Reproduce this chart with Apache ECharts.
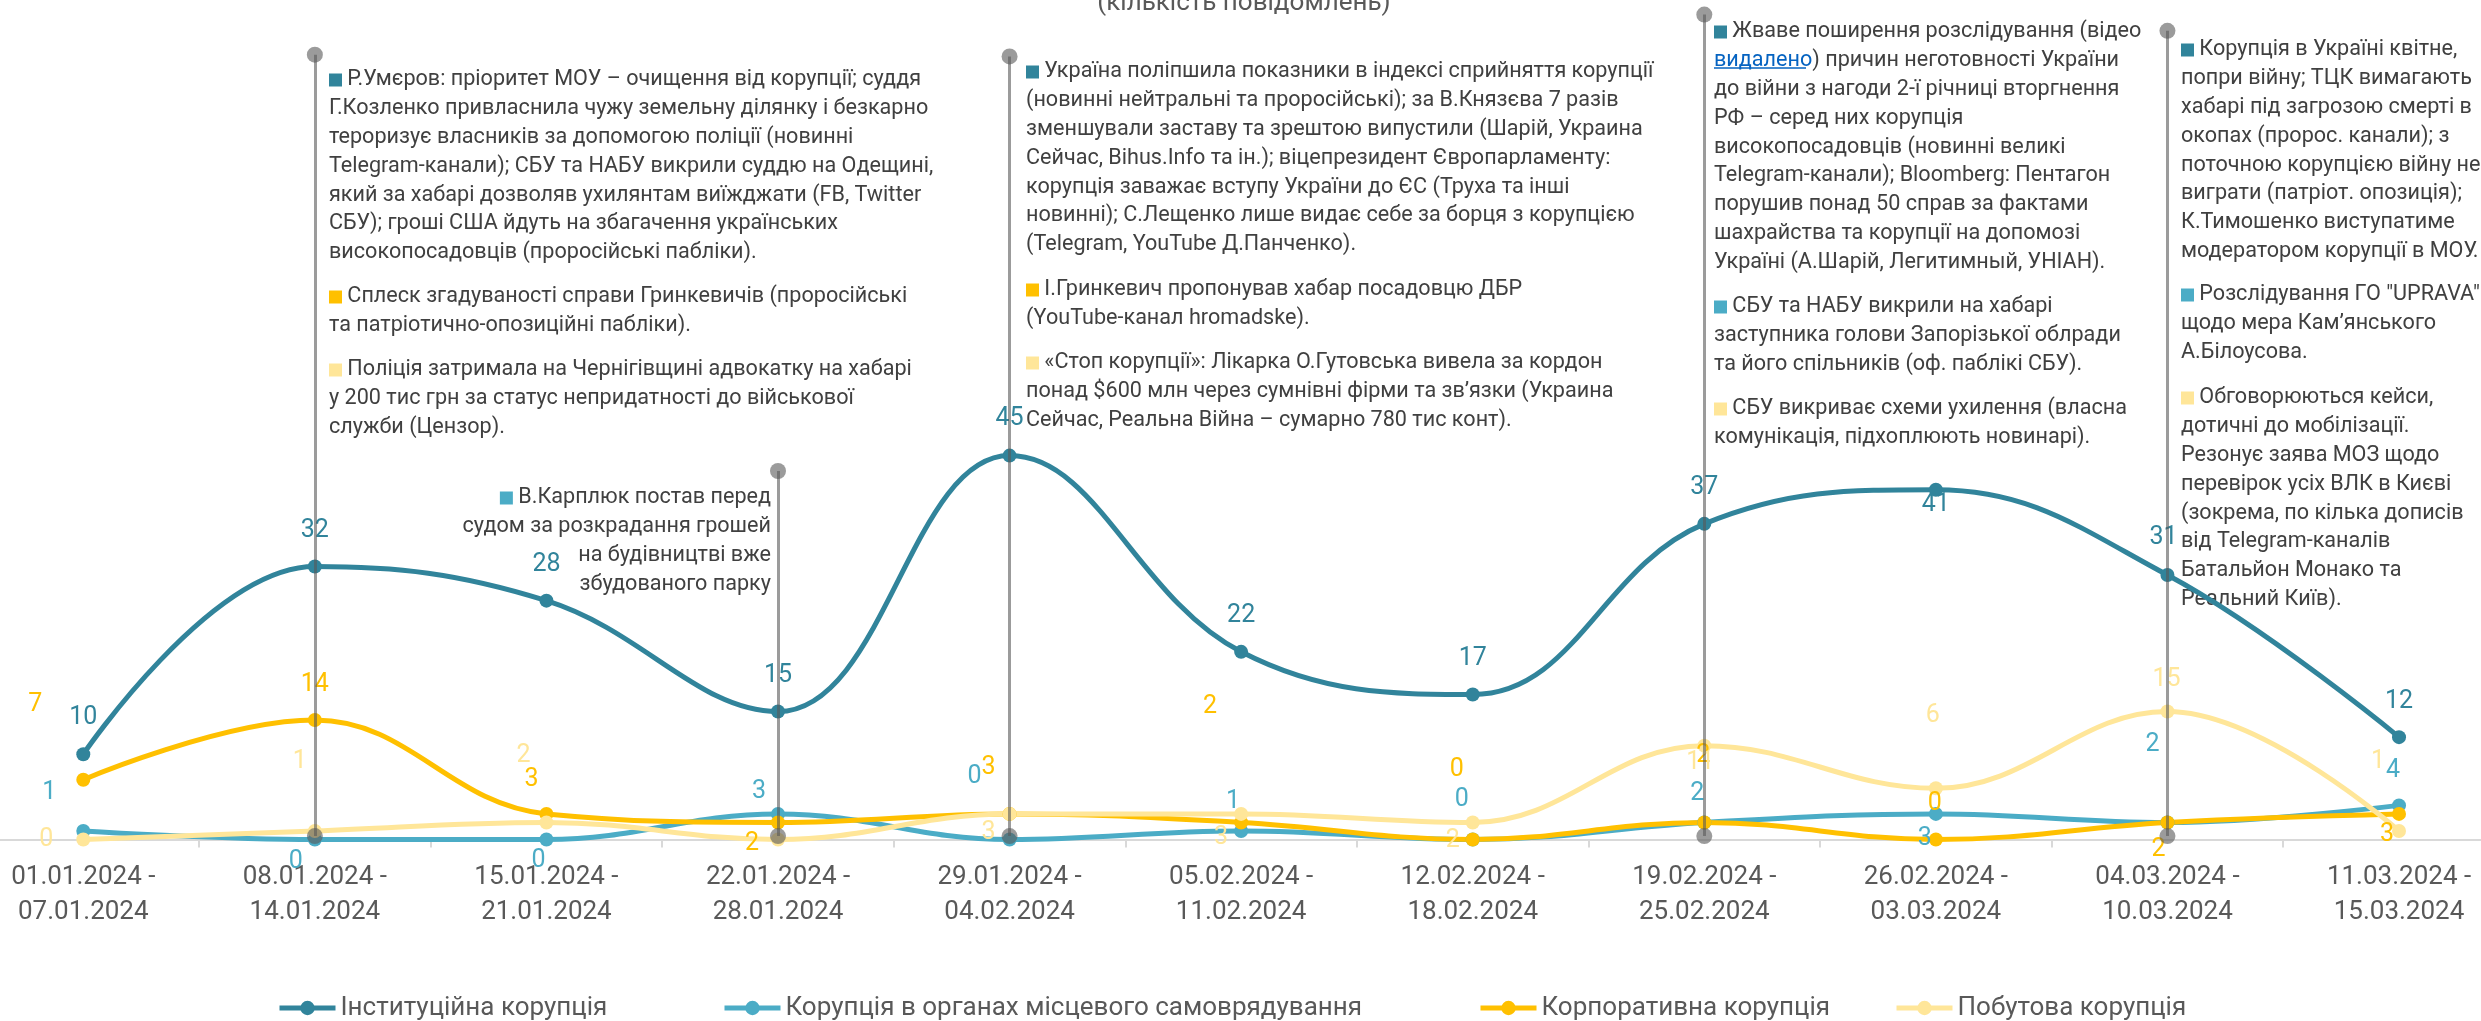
<!DOCTYPE html>
<html>
<head>
<meta charset="utf-8">
<script src="https://cdn.jsdelivr.net/npm/echarts@6/dist/echarts.min.js"></script>
<style>
  html, body { margin: 0; padding: 0; background: #fff; }
  #chart { width: 2481px; height: 1021px; }
</style>
</head>
<body>
<div id="chart"></div>
<script>
const categories = [
  '01.01.2024 -\n07.01.2024', '08.01.2024 -\n14.01.2024', '15.01.2024 -\n21.01.2024',
  '22.01.2024 -\n28.01.2024', '29.01.2024 -\n04.02.2024', '05.02.2024 -\n11.02.2024',
  '12.02.2024 -\n18.02.2024', '19.02.2024 -\n25.02.2024', '26.02.2024 -\n03.03.2024',
  '04.03.2024 -\n10.03.2024', '11.03.2024 -\n15.03.2024'
]
const seriesNames = [
  'Інституційна корупція',
  'Корупція в органах місцевого самоврядування',
  'Корпоративна корупція',
  'Побутова корупція'
]
const institutional = [10, 32, 28, 15, 45, 22, 17, 37, 41, 31, 12]
const localGov = [1, 0, 0, 3, 0, 1, 0, 2, 3, 2, 4]
const corporate = [7, 14, 3, 2, 3, 2, 0, 2, 0, 2, 3]
const household = [0, 1, 2, 0, 3, 3, 2, 11, 6, 15, 1]

// weeks with commentary and how high their marker line reaches (value units)
const noteWeeks = [1, 3, 4, 7, 9]
const noteTops = [92.0, 43.2, 91.8, 96.7, 94.8]

const C_INST = '#31849b'
const C_LOCAL = '#4bacc6'
const C_CORP = '#ffc000'
const C_HOME = '#ffe699'
const FONT = 'Roboto'

// data label shifts (px from the point), null = label hidden
const instShift = [[0,-36],[0,-36],[0,-36],[0,-36],[0,-37],[0,-36],[0,-36],[0,-36],[0,15],[-4,-37],[0,-35]]
const localShift = [[-34,-38],[-19,22],[-8,21],[-19,-22],[-35,-63],[-8,-29],[-11,-40],[-7,-29],[-11,25],[-15,-78],[-6,-35]]
const corpShift = [[-48,-75],[0,-35],[-15,-34],[-26,21],[-21,-46],[-31,-116],[-16,-70],[-1,-67],[-1,-36],[-9,27],[-12,21]]
const homeShift = [[-37,0],[-15,-69],[-23,-67],null,[-21,19],[-20,24],[-20,18],[-4,17],[-3,-73],[-1,-32],[-21,-69]]

const notes = [
  { x: 329, y: 80, align: 'left', color: C_INST, lines: [
    'Р.Умєров: пріоритет МОУ – очищення від корупції; суддя',
    'Г.Козленко привласнила чужу земельну ділянку і безкарно',
    'тероризує власників за допомогою поліції (новинні',
    'Telegram-канали); СБУ та НАБУ викрили суддю на Одещині,',
    'який за хабарі дозволяв ухилянтам виїжджати (FB, Twitter',
    'СБУ); гроші США йдуть на збагачення українських',
    'високопосадовців (проросійські пабліки).'] },
  { x: 329, y: 297, align: 'left', color: C_CORP, lines: [
    'Сплеск згадуваності справи Гринкевичів (проросійські',
    'та патріотично-опозиційні пабліки).'] },
  { x: 329, y: 370, align: 'left', color: C_HOME, lines: [
    'Поліція затримала на Чернігівщині адвокатку на хабарі',
    'у 200 тис грн за статус непридатності до військової',
    'служби (Цензор).'] },
  { x: 771, y: 498, align: 'right', color: C_LOCAL, lines: [
    'В.Карплюк постав перед',
    'судом за розкрадання грошей',
    'на будівництві вже',
    'збудованого парку'] },
  { x: 1026, y: 72, align: 'left', color: C_INST, lines: [
    'Україна поліпшила показники в індексі сприйняття корупції',
    '(новинні нейтральні та проросійські); за В.Князєва 7 разів',
    'зменшували заставу та зрештою випустили (Шарій, Украина',
    'Сейчас, Bihus.Info та ін.); віцепрезидент Європарламенту:',
    'корупція заважає вступу України до ЄС (Труха та інші',
    'новинні); С.Лещенко лише видає себе за борця з корупцією',
    '(Telegram, YouTube Д.Панченко).'] },
  { x: 1026, y: 290, align: 'left', color: C_CORP, lines: [
    'І.Гринкевич пропонував хабар посадовцю ДБР',
    '(YouTube-канал hromadske).'] },
  { x: 1026, y: 363, align: 'left', color: C_HOME, lines: [
    '«Стоп корупції»: Лікарка О.Гутовська вивела за кордон',
    'понад $600 млн через сумнівні фірми та зв’язки (Украина',
    'Сейчас, Реальна Війна – сумарно 780 тис конт).'] },
  { x: 1714, y: 32, align: 'left', color: C_INST, lines: [
    'Жваве поширення розслідування (відео',
    '{lnk|видалено}) причин неготовності України',
    'до війни з нагоди 2-ї річниці вторгнення',
    'РФ – серед них корупція',
    'високопосадовців (новинні великі',
    'Telegram-канали); Bloomberg: Пентагон',
    'порушив понад 50 справ за фактами',
    'шахрайства та корупції на допомозі',
    'Україні (А.Шарій, Легитимный, УНІАН).'] },
  { x: 1714, y: 307, align: 'left', color: C_LOCAL, lines: [
    'СБУ та НАБУ викрили на хабарі',
    'заступника голови Запорізької облради',
    'та його спільників (оф. паблікі СБУ).'] },
  { x: 1714, y: 409, align: 'left', color: C_HOME, lines: [
    'СБУ викриває схеми ухилення (власна',
    'комунікація, підхоплюють новинарі).'] },
  { x: 2181, y: 50, align: 'left', color: C_INST, lines: [
    'Корупція в Україні квітне,',
    'попри війну; ТЦК вимагають',
    'хабарі під загрозою смерті в',
    'окопах (пророс. канали); з',
    'поточною корупцією війну не',
    'виграти (патріот. опозиція);',
    'К.Тимошенко виступатиме',
    'модератором корупції в МОУ.'] },
  { x: 2181, y: 295, align: 'left', color: C_LOCAL, lines: [
    'Розслідування ГО "UPRAVA"',
    'щодо мера Кам’янського',
    'А.Білоусова.'] },
  { x: 2181, y: 398, align: 'left', color: C_HOME, lines: [
    'Обговорюються кейси,',
    'дотичні до мобілізації.',
    'Резонує заява МОЗ щодо',
    'перевірок усіх ВЛК в Києві',
    '(зокрема, по кілька дописів',
    'від Telegram-каналів',
    'Батальйон Монако та',
    'Реальний Київ).'] }
]

const LINE_H = 28.8
const NOTE_SIZE = 21.6

const noteGraphics = notes.map(n => ({
  type: 'text',
  x: n.x,
  y: n.y - LINE_H / 2,
  silent: true,
  style: {
    text: '{sq| } ' + n.lines.join('\n'),
    fill: '#404040',
    fontSize: NOTE_SIZE,
    fontFamily: FONT,
    lineHeight: LINE_H,
    align: n.align,
    verticalAlign: 'top',
    rich: {
      sq: { width: 13, height: 13, backgroundColor: n.color, lineHeight: LINE_H },
      lnk: { fill: '#0563c1', fontSize: NOTE_SIZE, fontFamily: FONT, lineHeight: LINE_H }
    }
  }
}))

const makeSeries = (name, values, color, shifts) => ({
  name: name,
  type: 'line',
  smooth: 0.4,
  symbol: 'circle',
  symbolSize: 14,
  lineStyle: { color: color, width: 5 },
  itemStyle: { color: color },
  emphasis: { disabled: true },
  label: {
    show: true,
    position: 'inside',
    color: color,
    fontSize: 25,
    fontFamily: FONT
  },
  data: values.map((v, i) => ({
    value: v,
    label: shifts[i] ? { offset: shifts[i] } : { show: false }
  }))
})

const chart = echarts.init(document.getElementById('chart'))

const legendLeft = [272, 717, 1473, 1889]

chart.setOption({
  animation: false,
  backgroundColor: '#fff',
  textStyle: { fontFamily: FONT },
  grid: {
    left: -32.5, right: -33.8, top: 3.5, bottom: 181.5,
    containLabel: false,
    outerBoundsMode: 'none'
  },
  legend: seriesNames.map((n, i) => ({
    data: [{ name: n, lineStyle: { width: 5 } }],
    left: legendLeft[i],
    top: 990,
    itemWidth: 56,
    itemHeight: 18,
    itemGap: 4,
    selectedMode: false,
    lineStyle: { width: 5 },
    textStyle: { color: '#595959', fontSize: 26, fontFamily: FONT }
  })),
  xAxis: {
    type: 'category',
    data: categories,
    boundaryGap: true,
    axisLine: { lineStyle: { color: '#d9d9d9', width: 2 } },
    axisTick: { show: true, length: 8, lineStyle: { color: '#d9d9d9', width: 2 } },
    axisLabel: {
      interval: 0,
      color: '#595959',
      fontSize: 26,
      fontFamily: FONT,
      lineHeight: 35,
      margin: 20
    },
    splitLine: { show: false }
  },
  yAxis: {
    type: 'value',
    min: 0,
    max: 98,
    show: false,
    splitLine: { show: false }
  },
  series: [
    makeSeries(seriesNames[0], institutional, C_INST, instShift),
    makeSeries(seriesNames[1], localGov, C_LOCAL, localShift),
    makeSeries(seriesNames[2], corporate, C_CORP, corpShift),
    makeSeries(seriesNames[3], household, C_HOME, homeShift),
    {
      name: 'notes',
      type: 'line',
      data: [],
      z: 5,
      silent: true,
      markLine: {
        silent: true,
        symbol: ['circle', 'circle'],
        symbolSize: 16,
        label: { show: false },
        emphasis: { disabled: true },
        lineStyle: { color: 'rgba(89,89,89,0.6)', width: 3, type: 'solid' },
        data: noteWeeks.map((ci, k) => [
          { coord: [categories[ci], 0.4] },
          { coord: [categories[ci], noteTops[k]] }
        ])
      }
    }
  ],
  graphic: [
    {
      type: 'text',
      x: 1244,
      y: 16,
      silent: true,
      style: {
        text: '(кількість повідомлень)',
        fill: '#595959',
        fontSize: 26,
        fontFamily: FONT,
        align: 'center',
        verticalAlign: 'bottom'
      }
    },
    {
      type: 'line',
      silent: true,
      shape: { x1: 1714, y1: 68, x2: 1806, y2: 68 },
      style: { stroke: '#0563c1', lineWidth: 1.5 }
    }
  ].concat(noteGraphics)
})

window.addEventListener('resize', () => chart.resize())
</script>
</body>
</html>
